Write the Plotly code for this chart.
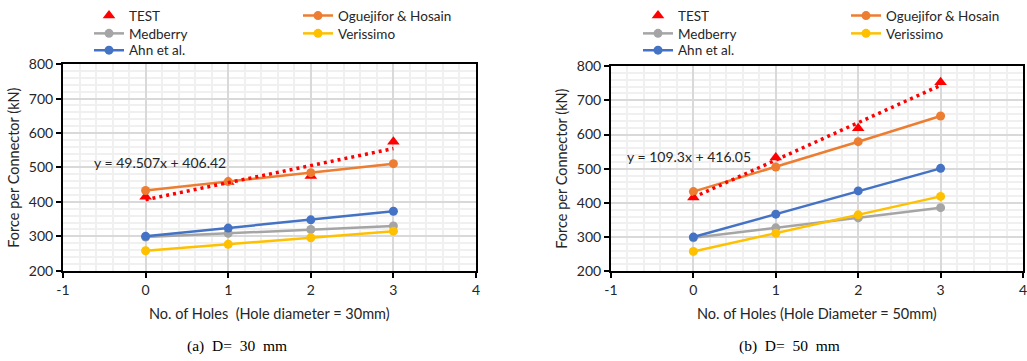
import plotly.graph_objects as go

# ---------------- data ----------------
holes = [0, 1, 2, 3]
x_tickvals = [-1, 0, 1, 2, 3, 4]
x_ticktext = ["-1", "0", "1", "2", "3", "4"]

# (a) D = 30 mm
test_30 = [415, 458, 475, 575]
ogue_30 = [433, 459, 485, 511]
medb_30 = [298, 309, 320, 330]
veri_30 = [258, 277, 296, 315]
ahn_30 = [300, 324, 348, 373]
trend_30 = (49.507, 406.42)
trend_text_30 = "y = 49.507x + 406.42"

# (b) D = 50 mm
test_50 = [416, 533, 618, 753]
ogue_50 = [433, 505, 579, 654]
medb_50 = [298, 327, 356, 386]
veri_50 = [258, 311, 365, 419]
ahn_50 = [300, 367, 435, 501]
trend_50 = (109.3, 416.05)
trend_text_50 = "y = 109.3x + 416.05"

x_titles = ["No. of Holes\u00a0\u00a0(Hole diameter = 30mm)", "No. of Holes (Hole Diameter = 50mm)"]
captions = ["(a)\u00a0\u00a0D=\u00a0\u00a030\u00a0\u00a0mm", "(b)\u00a0\u00a0D=\u00a0\u00a050\u00a0\u00a0mm"]
y_title = "Force per Connector (kN)"

C_TEST = "#FF0000"
C_OGUE = "#ED7D31"
C_MEDB = "#A5A5A5"
C_VERI = "#FFC000"
C_AHN = "#4472C4"

FONT = "Lato"
TXT = "#262626"
W, H = 1027, 361

fig = go.Figure()


def add_panel(xa, ya, legs, test, ogue, medb, veri, ahn, trend):
    fig.add_trace(go.Scatter(x=holes, y=test, name="TEST", mode="markers",
                             marker=dict(symbol="triangle-up", size=11, color=C_TEST),
                             xaxis=xa, yaxis=ya, legend=legs[0]))
    fig.add_trace(go.Scatter(x=holes, y=ogue, name="Oguejifor & Hosain", mode="lines+markers",
                             line=dict(color=C_OGUE, width=2.5), marker=dict(size=9, color=C_OGUE),
                             xaxis=xa, yaxis=ya, legend=legs[1]))
    fig.add_trace(go.Scatter(x=holes, y=medb, name="Medberry", mode="lines+markers",
                             line=dict(color=C_MEDB, width=2.5), marker=dict(size=9, color=C_MEDB),
                             xaxis=xa, yaxis=ya, legend=legs[2]))
    fig.add_trace(go.Scatter(x=holes, y=veri, name="Verissimo", mode="lines+markers",
                             line=dict(color=C_VERI, width=2.5), marker=dict(size=9, color=C_VERI),
                             xaxis=xa, yaxis=ya, legend=legs[3]))
    fig.add_trace(go.Scatter(x=holes, y=ahn, name="Ahn et al.", mode="lines+markers",
                             line=dict(color=C_AHN, width=2.5), marker=dict(size=9, color=C_AHN),
                             xaxis=xa, yaxis=ya, legend=legs[4]))
    slope, icpt = trend
    tx = [holes[0], holes[-1]]
    ty = [slope * v + icpt for v in tx]
    fig.add_trace(go.Scatter(x=tx, y=ty, mode="lines", showlegend=False,
                             line=dict(color=C_TEST, width=3.5, dash="3px,4px"),
                             xaxis=xa, yaxis=ya, hoverinfo="skip"))


legs_a = ["legend", "legend2", "legend3", "legend4", "legend5"]
legs_b = ["legend6", "legend7", "legend8", "legend9", "legend10"]
add_panel("x", "y", legs_a, test_30, ogue_30, medb_30, veri_30, ahn_30, trend_30)
add_panel("x2", "y2", legs_b, test_50, ogue_50, medb_50, veri_50, ahn_50, trend_50)

TICKFONT = dict(family=FONT, size=14, color=TXT)


def xaxis_cfg(dom, anchor):
    return dict(domain=dom, range=[-1, 4], tickvals=x_tickvals, ticktext=x_ticktext,
                anchor=anchor, automargin=False, ticklabeloverflow="allow",
                showgrid=True, gridcolor="#D9D9D9", gridwidth=1.5,
                minor=dict(dtick=0.2, tick0=0, showgrid=True, gridcolor="#F0F0F0", gridwidth=2),
                zeroline=False, showline=True, mirror=True, linecolor="black", linewidth=2,
                ticks="outside", ticklen=5, tickwidth=2, tickcolor="black",
                tickfont=TICKFONT)


def yaxis_cfg(dom, anchor):
    return dict(domain=dom, range=[200, 800], dtick=100, tick0=0, anchor=anchor,
                automargin=False, ticklabeloverflow="allow",
                showgrid=True, gridcolor="#D9D9D9", gridwidth=1.5,
                minor=dict(dtick=20, tick0=0, showgrid=True, gridcolor="#F0F0F0", gridwidth=2),
                zeroline=False, showline=True, mirror=True, linecolor="black", linewidth=2,
                ticks="outside", ticklen=5, tickwidth=2, tickcolor="black",
                tickfont=TICKFONT)


xd1 = [63 / W, 476 / W]
xd2 = [611 / W, 1023 / W]
yd1 = [1 - 269.5 / H, 1 - 60 / H]
yd2 = [1 - 270 / H, 1 - 62 / H]

legfont = dict(family=FONT, size=13.5, color=TXT)


def leg(x_px, y_px):
    return dict(x=x_px / W, y=1 - y_px / H, xanchor="left", yanchor="middle",
                orientation="v", bgcolor="rgba(0,0,0,0)", font=legfont,
                itemclick=False, itemdoubleclick=False)


# legend entry positions (left px of entry, centre y px)
col_a = [89, 298]
col_b = [638, 846]
rows = [11, 29, 46]
legend_pos = {}
for names, cols in ((legs_a, col_a), (legs_b, col_b)):
    legend_pos[names[0]] = leg(cols[0], rows[0])
    legend_pos[names[1]] = leg(cols[1], rows[0])
    legend_pos[names[2]] = leg(cols[0], rows[1])
    legend_pos[names[3]] = leg(cols[1], rows[1])
    legend_pos[names[4]] = leg(cols[0], rows[2])

fig.update_layout(
    width=W, height=H,
    margin=dict(l=0, r=0, t=0, b=0),
    paper_bgcolor="white", plot_bgcolor="white",
    font=dict(family=FONT, size=14, color=TXT),
    xaxis=xaxis_cfg(xd1, "y"),
    yaxis=yaxis_cfg(yd1, "x"),
    xaxis2=xaxis_cfg(xd2, "y2"),
    yaxis2=yaxis_cfg(yd2, "x2"),
    showlegend=True,
    **legend_pos,
)

fig.add_annotation(x=0.17, y=513, xref="x", yref="y", text=trend_text_30, showarrow=False,
                   xanchor="center", yanchor="middle",
                   font=dict(family=FONT, size=14, color=TXT))
fig.add_annotation(x=-0.05, y=537, xref="x2", yref="y2", text=trend_text_50, showarrow=False,
                   xanchor="center", yanchor="middle",
                   font=dict(family=FONT, size=14, color=TXT))

# axis titles
for xc, xt in ((269.5, x_titles[0]), (817, x_titles[1])):
    fig.add_annotation(x=xc / W, y=1 - 313 / H, xref="paper", yref="paper", text=xt,
                       xanchor="center", yanchor="middle",
                       showarrow=False, font=dict(family=FONT, size=14.5, color=TXT))
for xc, yc in ((14, 165), (562, 166)):
    fig.add_annotation(x=xc / W, y=1 - yc / H, xref="paper", yref="paper", text=y_title,
                       xanchor="center", yanchor="middle",
                       textangle=-90, showarrow=False, font=dict(family=FONT, size=14.5, color=TXT))

for xc, cap in ((237, captions[0]), (789, captions[1])):
    fig.add_annotation(x=xc / W, y=1 - 346 / H, xref="paper", yref="paper", text=cap,
                       xanchor="center", yanchor="middle", showarrow=False,
                       font=dict(family="Liberation Serif", size=15.5, color="black"))

fig.write_html("out.html")
